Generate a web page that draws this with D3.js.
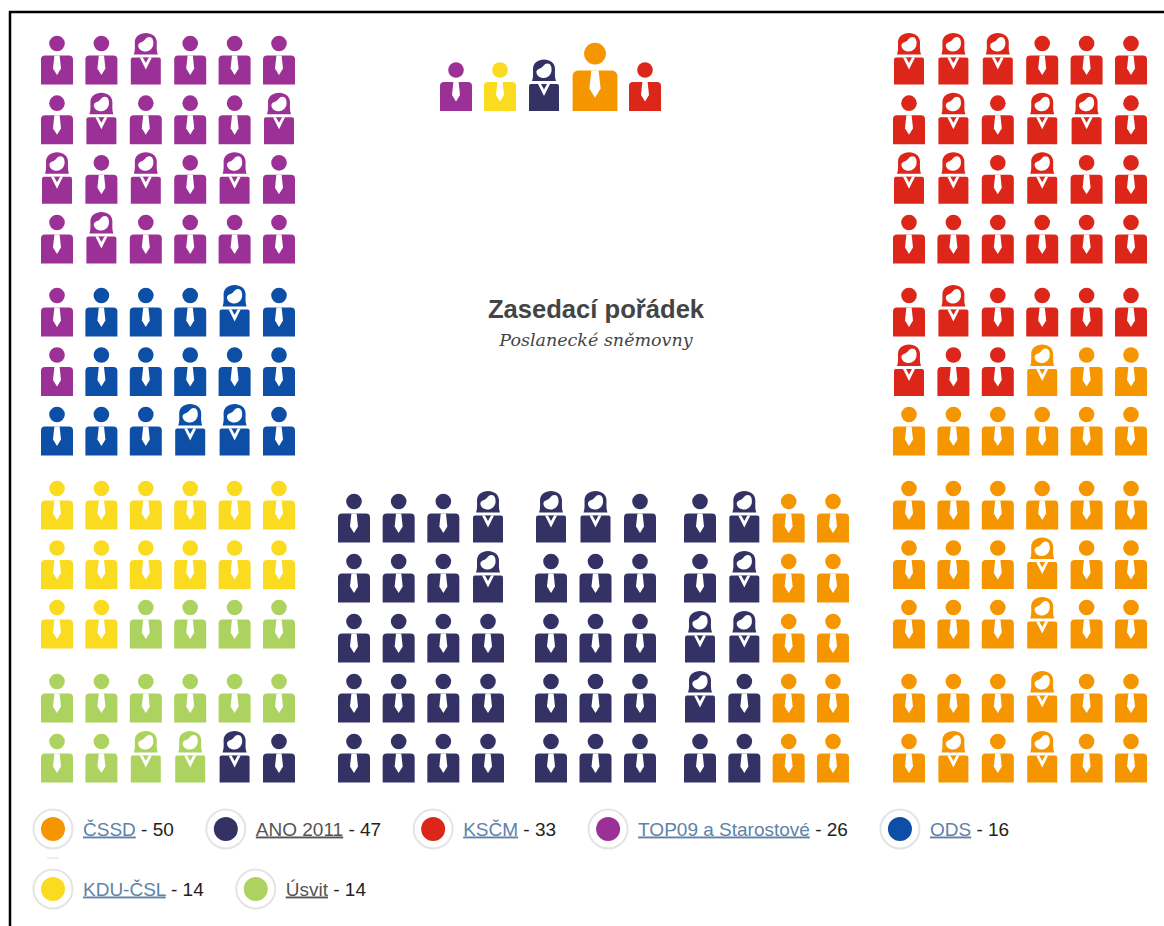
<!DOCTYPE html>
<html>
<head>
<meta charset="utf-8">
<title>Zasedací pořádek</title>
<style>
body { margin: 0; background: #fff; }
svg { display: block; }
.title { font: bold 25.6px "Liberation Sans", Arial, sans-serif; fill: #444; text-anchor: middle; }
.subtitle { font: italic 17.5px "DejaVu Serif", serif; fill: #444; text-anchor: middle; }
.legend text { font: 19px "Liberation Sans", Arial, sans-serif; fill: #222; }
.legend .link { text-decoration: underline; fill: #5f82a8; }
.legend .visited { fill: #555; }
</style>
</head>
<body>
<script src="https://cdnjs.cloudflare.com/ajax/libs/d3/7.8.5/d3.min.js"></script>
<script>

// Party codes: uppercase = man, lowercase = woman
var partyCodes = ["C", "A", "R", "T", "O", "K", "U"];
var partyNames = ["ČSSD", "ANO 2011", "KSČM", "TOP09 a Starostové", "ODS", "KDU-ČSL", "Úsvit"];
var partySeats = [50, 47, 33, 26, 16, 14, 14];
var partyColors = ["#f59600", "#343265", "#dc2619", "#9b3196", "#0d4ea6", "#fbdb1f", "#acd35f"];
var visitedParties = ["A", "U"];

var leftSeats = [
  "TTtTTT",
  "TtTTTt",
  "tTtTtT",
  "TtTTTT",
  "TOOOoO",
  "TOOOOO",
  "OOOooO",
  "KKKKKK",
  "KKKKKK",
  "KKUUUU",
  "UUUUUU",
  "UUuuaA"
];

var middleSeats = [
  "AAAaaaAAaCC",
  "AAAaAAAAaCC",
  "AAAAAAAaaCC",
  "AAAAAAAaACC",
  "AAAAAAAAACC"
];

var rightSeats = [
  "rrrRRR",
  "RrRrrR",
  "rrRrRR",
  "RRRRRR",
  "RrRRRR",
  "rRRcCC",
  "CCCCCC",
  "CCCCCC",
  "CCCcCC",
  "CCCcCC",
  "CCCcCC",
  "CcCcCC"
];

var headerSeats = ["T", "K", "a", "C", "R"];
var headerScale = [1, 1, 1, 1.4, 1];

var width = 1164,
    height = 926;

var color = d3.scaleOrdinal().domain(partyCodes).range(partyColors);

// block gaps are handled with piecewise scales
var sideRow = d3.scaleLinear()
    .domain([0, 3, 4, 6, 7, 9, 10, 11])
    .range([43.5, 222.5, 295.5, 414.5, 488.5, 607.5, 681.5, 741.5]);
var middleRow = d3.scaleLinear().domain([0, 4]).range([501.5, 741.5]);
var leftCol = d3.scaleLinear().domain([0, 5]).range([57, 279]);
var rightCol = d3.scaleLinear().domain([0, 5]).range([909, 1131]);
var middleCol = d3.scaleLinear()
    .domain([0, 3, 4, 6, 7, 10])
    .range([354, 488, 551, 640, 700, 833]);
var headerCol = d3.scaleLinear()
    .domain([0, 2, 3, 4])
    .range([456, 544, 595, 645]);

var svg = d3.select("body").append("svg")
    .attr("width", width)
    .attr("height", height);

// frame of the screenshot
svg.append("path")
    .attr("d", "M10,926V12H1164")
    .attr("fill", "none")
    .attr("stroke", "#000")
    .attr("stroke-width", 2.5);

var bodyMan = "M-16,16a4,4 0 0 1 4,-4H12a4,4 0 0 1 4,4V41H-16Z";
var tie = "M-2.6,12H2.6L4,25L0,31.5L-4,25Z";
var bodyWoman = "M-15,16a2,2 0 0 1 2,-2H13a2,2 0 0 1 2,2V41H-15Z";
var collar = "M-6,14H6L0,26Z";
var collarInner = "M-3,14H3L0,19.5Z";
var hair = "M-12,11C-10.5,7 -11,3 -11,-1C-11,-7 -6,-10.5 0,-10.5C6,-10.5 11,-7 11,-1C11,3 10.5,7 12,11Z";
var face = "M-7.5,3C-8,0 -5.5,-1 -3,-2C-1,-3 0,-6.5 3.5,-6.5C6.5,-6.5 8,-3 7.5,1C7,5 3.5,8 0,8C-3.5,8 -7,6 -7.5,3Z";

function drawSeat(selection, code) {
  var fill = color(code.toUpperCase());
  var g = selection.append("g");
  if (code === code.toUpperCase()) {
    g.append("circle").attr("r", 7.8).attr("fill", fill);
    g.append("path").attr("d", bodyMan).attr("fill", fill);
    g.append("path").attr("d", tie).attr("fill", "#fff");
  } else {
    g.append("path").attr("d", hair).attr("fill", fill);
    g.append("path").attr("d", face).attr("fill", "#fff");
    g.append("path").attr("d", bodyWoman).attr("fill", fill);
    g.append("path").attr("d", collar).attr("fill", "#fff");
    g.append("path").attr("d", collarInner).attr("fill", fill);
  }
  return g;
}

function drawBlock(seats, xScale, yScale) {
  seats.forEach(function(row, r) {
    row.split("").forEach(function(code, c) {
      drawSeat(svg, code)
          .attr("transform", "translate(" + xScale(c) + "," + yScale(r) + ")");
    });
  });
}

drawBlock(leftSeats, leftCol, sideRow);
drawBlock(middleSeats, middleCol, middleRow);
drawBlock(rightSeats, rightCol, sideRow);

// chairs on top, all standing on one baseline
headerSeats.forEach(function(code, i) {
  var k = headerScale[i];
  drawSeat(svg, code)
      .attr("transform", "translate(" + headerCol(i) + "," + (111 - 41 * k) + ")scale(" + k + ")");
});

svg.append("text").attr("class", "title")
    .attr("x", 596).attr("y", 318)
    .text("Zasedací pořádek");
svg.append("text").attr("class", "subtitle")
    .attr("x", 596).attr("y", 346)
    .text("Poslanecké sněmovny");

// legend flows left to right, second line starts at KDU-ČSL
var legend = svg.append("g").attr("class", "legend");
var legendX = 53,
    legendY = 829;

partyCodes.forEach(function(code, i) {
  if (i === 5) {
    legendX = 53;
    legendY = 889;
    legend.append("line")
        .attr("x1", 47).attr("x2", 59)
        .attr("y1", 858).attr("y2", 858)
        .attr("stroke", "#ddd");
  }
  var item = legend.append("g")
      .attr("transform", "translate(" + legendX + "," + legendY + ")");
  item.append("circle").attr("r", 19.5)
      .attr("fill", "#fff")
      .attr("stroke", "#e4e4e4")
      .attr("stroke-width", 2);
  item.append("circle").attr("r", 12).attr("fill", color(code));
  var label = item.append("text").attr("x", 30).attr("y", 6.5);
  label.append("tspan")
      .attr("class", visitedParties.indexOf(code) >= 0 ? "link visited" : "link")
      .text(partyNames[i]);
  label.append("tspan").text(" - " + partySeats[i]);
  legendX += 30 + label.node().getComputedTextLength() + 52;
});

</script>
</body>
</html>
